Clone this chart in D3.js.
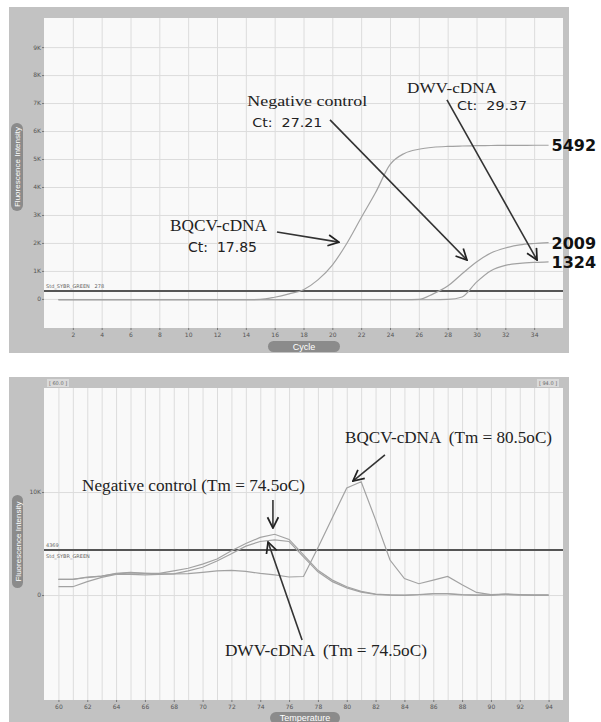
<!DOCTYPE html>
<html>
<head>
<meta charset="utf-8">
<script src="https://cdn.jsdelivr.net/npm/d3@7"></script>
<style>
    body { margin: 0; background: #fff; }
    text { white-space: pre; }
    .tick text { font-family: "DejaVu Sans", sans-serif; font-size: 6px; fill: #555; }
    .tick line { stroke: #777; }
    .domain { display: none; }
    .grid line { stroke: #dcdcdc; stroke-width: 1; }
    .curve { fill: none; stroke: #a2a2a2; stroke-width: 1.2; }
    .thresh { stroke: #555; stroke-width: 2; }
    .serif { font-family: "Liberation Serif", "Times New Roman", serif; fill: #222; }
    .sans { font-family: "DejaVu Sans", sans-serif; fill: #222; }
    .small { font-family: "DejaVu Sans", sans-serif; font-size: 5px; fill: #666; }
    .arrow { stroke: #333; stroke-width: 1.6; fill: none; }
</style>
</head>
<body>
<script>
// ---- amplification plot data (cycle 1..35) ----
var cycles = [1,2,3,4,5,6,7,8,9,10,11,12,13,14,15,16,17,18,19,20,21,22,23,24,25,26,27,28,29,30,31,32,33,34,35];
var bqcvAmp = [-30,-30,-30,-30,-30,-30,-30,-30,-30,-30,-30,-30,-30,-30,-20,60,180,330,680,1210,1980,2900,3800,4800,5200,5350,5420,5450,5465,5475,5482,5486,5489,5491,5492];
var negAmp = [-30,-30,-30,-30,-30,-30,-30,-30,-30,-30,-30,-30,-30,-30,-30,-30,-30,-30,-30,-30,-30,-30,-30,-30,-30,-20,180,460,900,1320,1640,1820,1930,1980,2009];
var dwvAmp = [-30,-30,-30,-30,-30,-30,-30,-30,-30,-30,-30,-30,-30,-30,-30,-30,-30,-30,-30,-30,-30,-30,-30,-30,-30,-30,-30,-20,70,600,1010,1200,1270,1305,1324];
var ampEnd = [5492, 2009, 1324];
var ampThreshold = 278;
var cycleTicks = [2,4,6,8,10,12,14,16,18,20,22,24,26,28,30,32,34];
var ampTicksY = [0,1000,2000,3000,4000,5000,6000,7000,8000,9000];

// ---- melt curve data (temperature 60..94) ----
var meltTemps = [60,61,62,63,64,65,66,67,68,69,70,71,72,73,74,75,76,77,78,79,80,81,82,83,84,85,86,87,88,89,90,91,92,93,94];
var bqcvMelt = [1520,1520,1750,1840,2050,2150,2100,2050,2050,2080,2200,2350,2400,2300,2100,1950,1750,1800,4600,7500,10400,11000,7300,3400,1600,1100,1450,1800,1000,250,50,100,50,0,0];
var negMelt = [1520,1520,1700,1840,2100,2200,2100,2100,2350,2600,3000,3500,4300,5000,5600,5900,5400,3900,2400,1450,800,350,100,20,0,50,150,150,50,0,0,80,30,0,0];
var dwvMelt = [810,810,1300,1720,2000,2000,1950,2000,2050,2350,2700,3300,4000,4750,5200,5350,5200,3700,2250,1300,700,280,60,0,-30,30,100,100,20,0,0,50,0,0,0];
var meltThreshold = 4369;
var tempTicks = [60,62,64,66,68,70,72,74,76,78,80,82,84,86,88,90,92,94];
var meltTicksY = [0,10000];

window.onload = function () {
    var w = 601, h = 722;

    var svg = d3.select('body')
        .append('svg')
        .attr('width', w)
        .attr('height', h);

    // open chevron arrow head
    svg.append('defs').append('marker')
        .attr('id', 'head')
        .attr('viewBox', '0 0 12 12')
        .attr('refX', 11)
        .attr('refY', 6)
        .attr('markerWidth', 13)
        .attr('markerHeight', 13)
        .attr('markerUnits', 'userSpaceOnUse')
        .attr('orient', 'auto')
        .append('path')
        .attr('d', 'M1,1 L11,6 L1,11')
        .attr('fill', 'none')
        .attr('stroke', '#222')
        .attr('stroke-width', 1.6);

    var kFormat = function (d) {
        return d === 0 ? '0' : (d / 1000) + 'K';
    };

    // draws the grey instrument frame, plot background and the two title tabs
    function frame(f, p, yTab, xTab, xTitle) {
        svg.append('rect')
            .attr('x', f.x).attr('y', f.y)
            .attr('width', f.w).attr('height', f.h)
            .style('fill', '#c2c2c2');
        svg.append('rect')
            .attr('x', p.x).attr('y', p.y)
            .attr('width', p.w).attr('height', p.h)
            .style('fill', '#f9f9f9');

        svg.append('rect')
            .attr('x', yTab.x).attr('y', yTab.y)
            .attr('width', yTab.w).attr('height', yTab.h)
            .attr('rx', yTab.w / 2)
            .style('fill', '#8b8b8b');
        svg.append('text')
            .attr('transform', 'translate(' + (yTab.x + yTab.w / 2 + 3) + ',' + (yTab.y + yTab.h / 2) + ') rotate(-90)')
            .attr('text-anchor', 'middle')
            .style('font-family', 'Liberation Sans, sans-serif')
            .style('font-size', '8px')
            .style('fill', '#fff')
            .text('Fluorescence Intensity');

        svg.append('rect')
            .attr('x', xTab.x).attr('y', xTab.y)
            .attr('width', xTab.w).attr('height', xTab.h)
            .attr('rx', xTab.h / 2)
            .style('fill', '#8b8b8b');
        svg.append('text')
            .attr('x', xTab.x + xTab.w / 2)
            .attr('y', xTab.y + xTab.h / 2 + 3)
            .attr('text-anchor', 'middle')
            .style('font-family', 'Liberation Sans, sans-serif')
            .style('font-size', '9px')
            .style('fill', '#fff')
            .text(xTitle);
    }

    function arrow(x1, y1, x2, y2) {
        svg.append('line')
            .attr('class', 'arrow')
            .attr('x1', x1).attr('y1', y1)
            .attr('x2', x2).attr('y2', y2)
            .attr('marker-end', 'url(#head)');
    }

    function label(cls, size, x, y, len, str) {
        var t = svg.append('text')
            .attr('class', cls)
            .attr('x', x)
            .attr('y', y)
            .style('font-size', size + 'px')
            .text(str);
        if (len) {
            t.attr('textLength', len).attr('lengthAdjust', 'spacingAndGlyphs');
        }
        return t;
    }

    // =================== amplification plot ===================
    var pA = {x: 44, y: 18, w: 519, h: 310};
    frame({x: 9, y: 7, w: 560, h: 346}, pA,
        {x: 11, y: 123, w: 12, h: 88},
        {x: 268, y: 341, w: 72, h: 11}, 'Cycle');

    var xA = d3.scaleLinear().domain([0, 36]).range([pA.x, pA.x + pA.w]);
    var yA = d3.scaleLinear().domain([-1040, 10040]).range([pA.y + pA.h, pA.y]);

    svg.append('g')
        .attr('class', 'grid')
        .attr('transform', 'translate(0,' + (pA.y + pA.h) + ')')
        .call(d3.axisBottom(xA).tickValues(cycleTicks).tickSize(-pA.h).tickFormat(''));
    svg.append('g')
        .attr('class', 'grid')
        .attr('transform', 'translate(' + pA.x + ',0)')
        .call(d3.axisLeft(yA).tickValues(ampTicksY).tickSize(-pA.w).tickFormat(''));

    svg.append('g')
        .attr('transform', 'translate(' + pA.x + ',0)')
        .call(d3.axisLeft(yA).tickValues(ampTicksY).tickFormat(kFormat).tickSize(2).tickPadding(1));
    svg.append('g')
        .attr('transform', 'translate(0,' + (pA.y + pA.h) + ')')
        .call(d3.axisBottom(xA).tickValues(cycleTicks).tickSize(2).tickPadding(3));

    svg.append('line')
        .attr('class', 'thresh')
        .attr('x1', pA.x).attr('x2', pA.x + pA.w)
        .attr('y1', yA(ampThreshold)).attr('y2', yA(ampThreshold));
    svg.append('text')
        .attr('class', 'small')
        .attr('x', pA.x + 2)
        .attr('y', yA(ampThreshold) - 3)
        .text('Std_SYBR_GREEN   ' + ampThreshold);

    var ampLine = d3.line()
        .x(function (d) { return xA(d[0]); })
        .y(function (d) { return yA(d[1]); })
        .curve(d3.curveMonotoneX);

    var ampSeries = [bqcvAmp, negAmp, dwvAmp];
    svg.selectAll('.ampCurve')
        .data(ampSeries)
        .enter()
        .append('path')
        .attr('class', 'curve ampCurve')
        .attr('d', function (s) {
            return ampLine(cycles.map(function (c, i) { return [c, s[i]]; }));
        });

    // end values
    svg.selectAll('.endLabel')
        .data(ampEnd)
        .enter()
        .append('text')
        .attr('class', 'endLabel')
        .attr('x', xA(cycles[cycles.length - 1]) + 3)
        .attr('y', function (d) { return yA(d); })
        .attr('dy', '0.38em')
        .style('font-family', 'DejaVu Sans, sans-serif')
        .style('font-weight', 'bold')
        .style('font-size', '16px')
        .style('fill', '#111')
        .text(function (d) { return d; });

    // annotations (placed in data units)
    label('serif', 15, xA(14.1), yA(6900), 120, 'Negative control');
    label('sans', 13, xA(14.45), yA(6150), 70, 'Ct:  27.21');
    arrow(xA(19.84), yA(6400), xA(29.34), yA(1390));

    label('serif', 15, xA(25.18), yA(7360), 90, 'DWV-cDNA');
    label('sans', 13, xA(28.65), yA(6750), 70, 'Ct:  29.37');
    arrow(xA(27.95), yA(7110), xA(34.2), yA(1390));

    label('serif', 17, xA(8.74), yA(2430), 97, 'BQCV-cDNA');
    label('sans', 14, xA(9.99), yA(1680), 69, 'Ct:  17.85');
    arrow(xA(16.16), yA(2390), xA(20.46), yA(2030));

    // =================== melt curve plot ===================
    var pM = {x: 44, y: 388, w: 519, h: 312};
    frame({x: 9, y: 377, w: 560, h: 360}, pM,
        {x: 12, y: 495, w: 11, h: 93},
        {x: 270, y: 712, w: 70, h: 12}, 'Temperature');

    var xM = d3.scaleLinear().domain([59, 95]).range([pM.x, pM.x + pM.w]);
    var yM = d3.scaleLinear().domain([-10190, 20100]).range([pM.y + pM.h, pM.y]);

    svg.append('g')
        .attr('class', 'grid')
        .attr('transform', 'translate(0,' + (pM.y + pM.h) + ')')
        .call(d3.axisBottom(xM).tickValues(meltTemps).tickSize(-pM.h).tickFormat(''));
    svg.append('g')
        .attr('class', 'grid')
        .attr('transform', 'translate(' + pM.x + ',0)')
        .call(d3.axisLeft(yM).tickValues(meltTicksY).tickSize(-pM.w).tickFormat(''));

    svg.append('g')
        .attr('transform', 'translate(' + pM.x + ',0)')
        .call(d3.axisLeft(yM).tickValues(meltTicksY).tickFormat(kFormat).tickSize(2).tickPadding(1));
    svg.append('g')
        .attr('transform', 'translate(0,' + (pM.y + pM.h) + ')')
        .call(d3.axisBottom(xM).tickValues(tempTicks).tickSize(2).tickPadding(3));

    // range markers in the header band
    [[meltTemps[0], pM.x + 3], [meltTemps[meltTemps.length - 1], pM.x + pM.w - 26]].forEach(function (m) {
        svg.append('rect')
            .attr('x', m[1]).attr('y', 379)
            .attr('width', 22).attr('height', 8)
            .style('fill', '#dadada');
        svg.append('text')
            .attr('class', 'small')
            .attr('x', m[1] + 11).attr('y', 385)
            .attr('text-anchor', 'middle')
            .text('[ ' + m[0].toFixed(1) + ' ]');
    });

    svg.append('line')
        .attr('class', 'thresh')
        .attr('x1', pM.x).attr('x2', pM.x + pM.w)
        .attr('y1', yM(meltThreshold)).attr('y2', yM(meltThreshold));
    svg.append('text')
        .attr('class', 'small')
        .attr('x', pM.x + 2)
        .attr('y', yM(meltThreshold) - 3)
        .text(meltThreshold);
    svg.append('text')
        .attr('class', 'small')
        .attr('x', pM.x + 2)
        .attr('y', yM(meltThreshold) + 8)
        .text('Std_SYBR_GREEN');

    var meltLine = d3.line()
        .x(function (d) { return xM(d[0]); })
        .y(function (d) { return yM(d[1]); });

    var meltSeries = [bqcvMelt, negMelt, dwvMelt];
    svg.selectAll('.meltCurve')
        .data(meltSeries)
        .enter()
        .append('path')
        .attr('class', 'curve meltCurve')
        .attr('d', function (s) {
            return meltLine(meltTemps.map(function (t, i) { return [t, s[i]]; }));
        });

    label('serif', 16.5, xM(79.88), yM(14760), 207, 'BQCV-cDNA  (Tm = 80.5oC)');
    arrow(xM(82.65), yM(13600), xM(80.43), yM(11070));

    label('serif', 16.5, xM(61.64), yM(10100), 223, 'Negative control (Tm = 74.5oC)');
    arrow(xM(74.88), yM(9230), xM(74.88), yM(6500));

    label('serif', 16.5, xM(71.55), yM(-5920), 202, 'DWV-cDNA  (Tm = 74.5oC)');
    arrow(xM(76.9), yM(-4370), xM(74.54), yM(5150));
};
</script>
</body>
</html>
